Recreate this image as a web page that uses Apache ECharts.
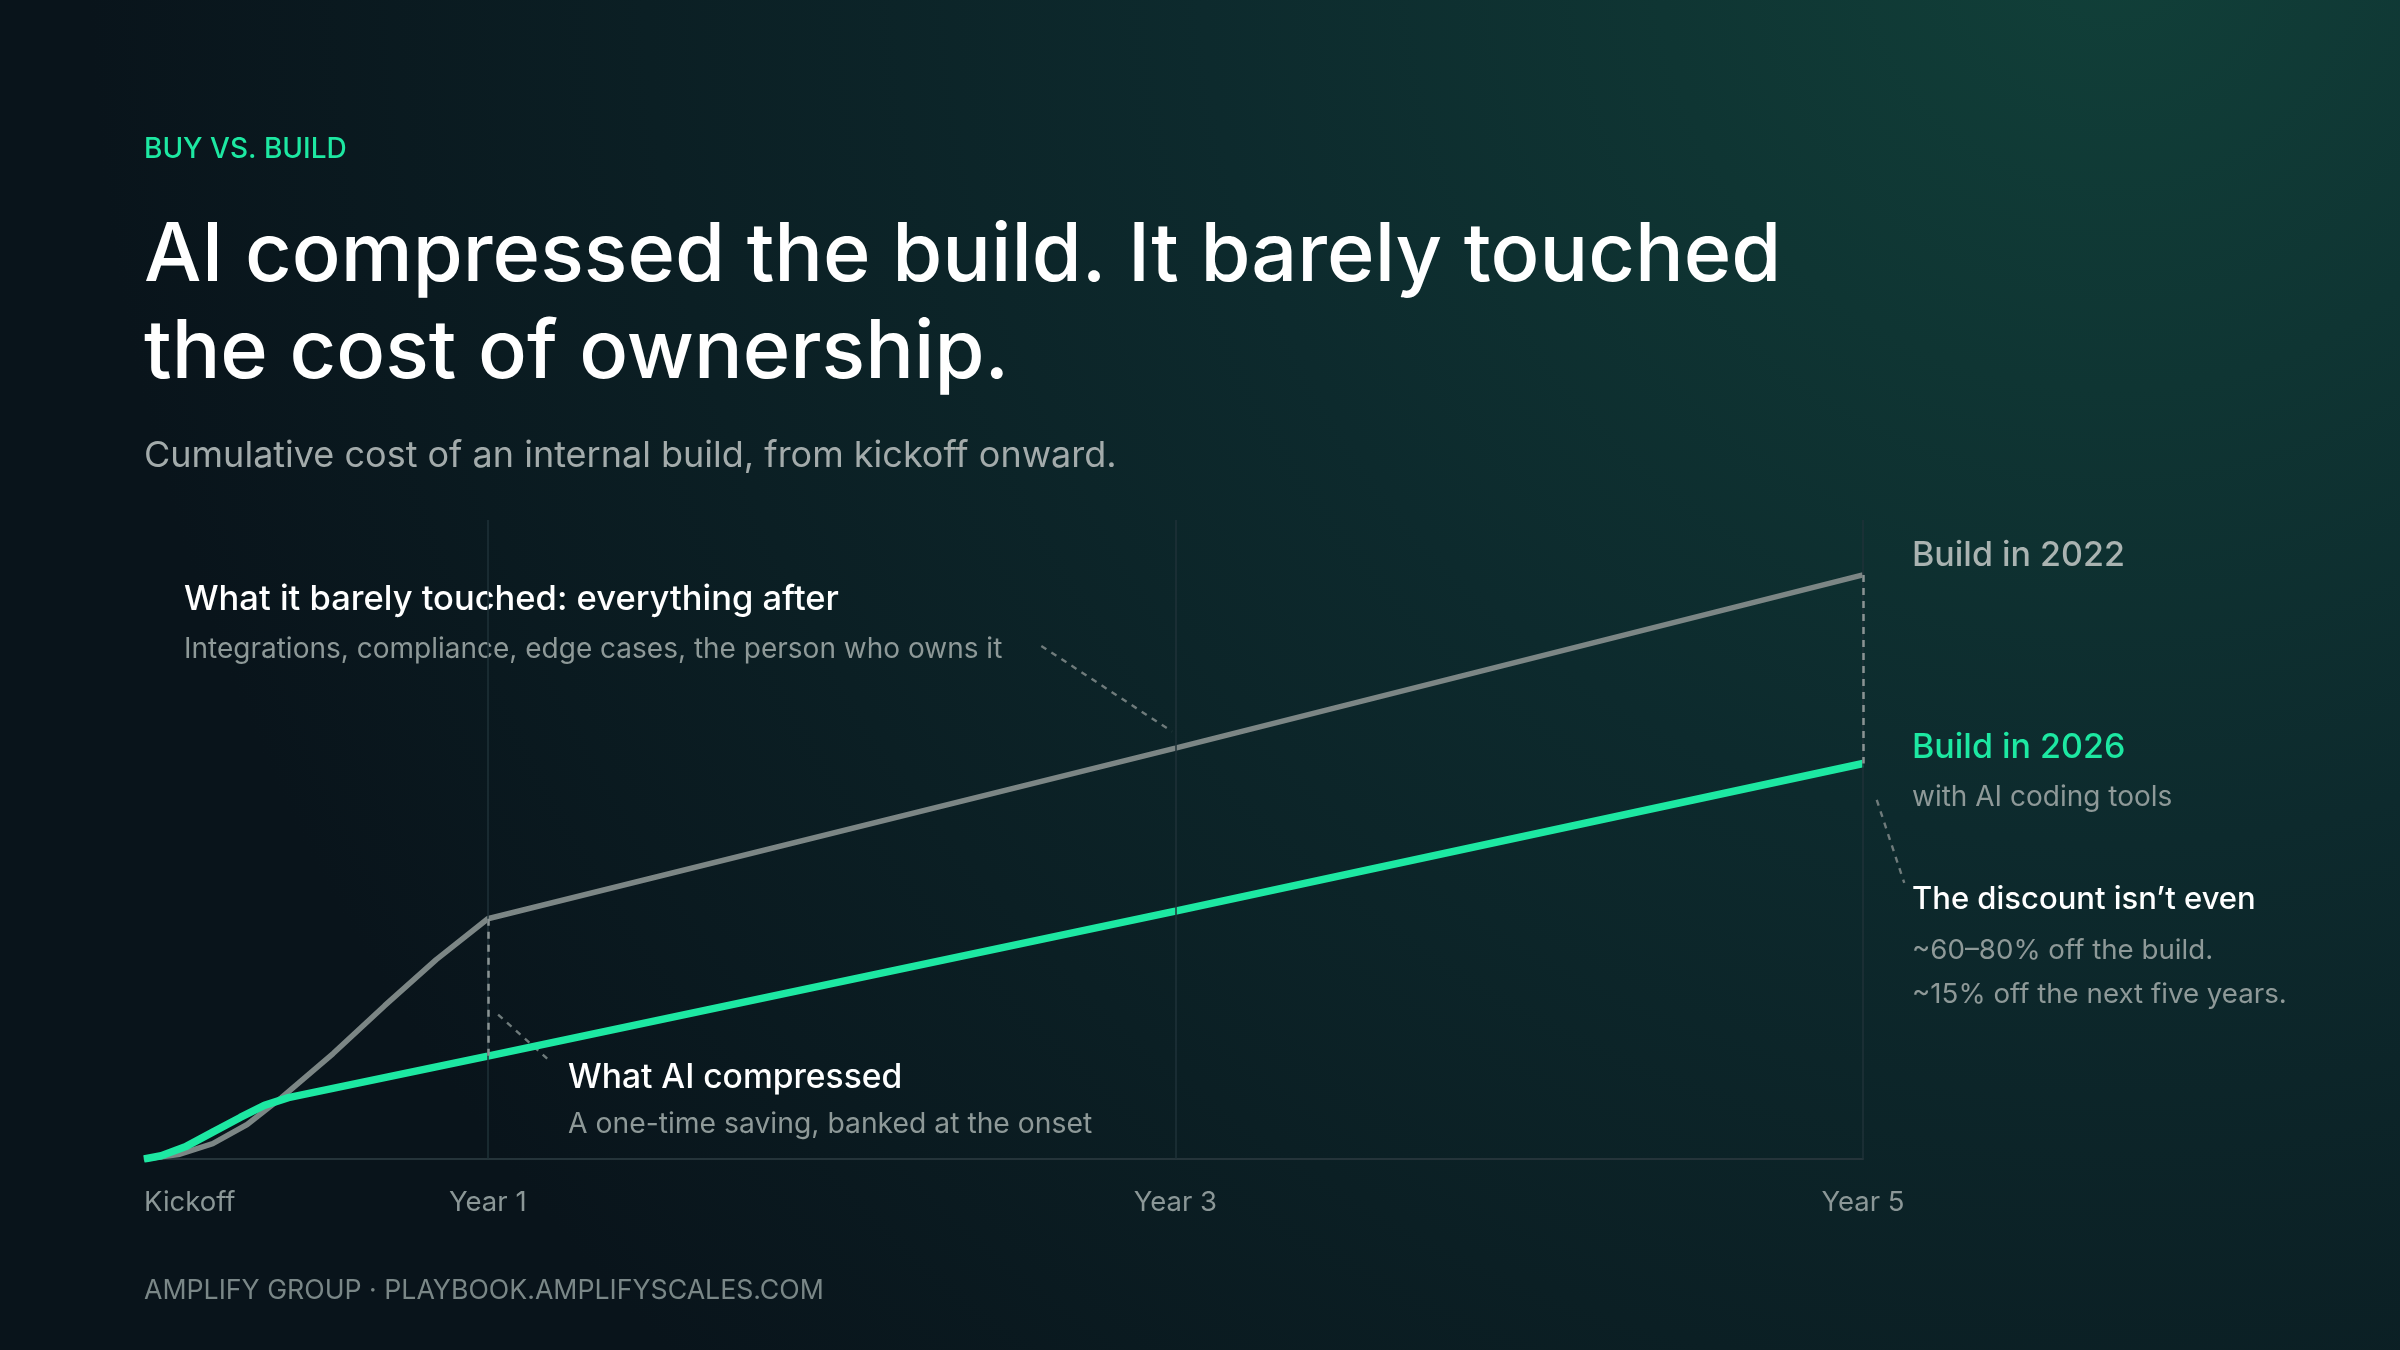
<!DOCTYPE html>
<html>
<head>
<meta charset="utf-8">
<style>
  html, body { margin: 0; padding: 0; background: #0a161d; }
  #main { width: 2400px; height: 1350px; }
</style>
<script src="https://cdn.jsdelivr.net/npm/echarts@6/dist/echarts.min.js"></script>
</head>
<body>
<div id="main"></div>
<script>
// years since kickoff, cumulative cost (share of the chart height)
var build2022X = [0, 0.1, 0.2, 0.3, 0.4, 0.55, 0.7, 0.85, 1, 3, 5];
var build2022Y = [0, 0.7, 2.4, 5.4, 9.6, 16.5, 24, 31.2, 37.6, 64.3, 91.4];
var build2026X = [0, 0.05, 0.12, 0.2, 0.28, 0.35, 0.42, 1, 3, 5];
var build2026Y = [0, 0.5, 1.9, 4.2, 6.5, 8.4, 9.6, 16.1, 38.8, 61.9];
var tickYears = [1, 3, 5];
var tickLabels = { 0: 'Kickoff', 1: 'Year 1', 3: 'Year 3', 5: 'Year 5' };

var chartDom = document.getElementById('main');
var myChart = echarts.init(chartDom);

var FONT = 'Inter, "Noto Sans", sans-serif';
var GREEN = '#1de8a2';
var GREY = '#7c8685';

function zip(xs, ys) {
    return xs.map(function (x, i) { return [x, ys[i]]; });
}

function valueAt(xs, ys, x) {
    return ys[xs.indexOf(x)];
}

var option = {
    backgroundColor: {
        type: 'radial', x: 0.88, y: -0.05, r: 1.5,
        colorStops: [
            { offset: 0, color: '#114039' },
            { offset: 0.45, color: '#0d2a2d' },
            { offset: 1, color: '#09141b' }
        ]
    },
    animation: false,
    grid: { left: 144, right: 537, top: 520, bottom: 191 },
    xAxis: {
        type: 'value', min: 0, max: 5, interval: 1,
        axisLine: { show: true, lineStyle: { color: '#25343a', width: 2 } },
        axisTick: { show: false },
        splitLine: { show: false },
        axisLabel: {
            margin: 30, fontSize: 27.5, color: '#8b9797', fontFamily: FONT,
            alignMinLabel: 'left', alignMaxLabel: 'center',
            formatter: function (v) { return tickLabels[v] || ''; }
        }
    },
    yAxis: {
        type: 'value', min: 0, max: 100,
        show: false
    },
    series: [
        {
            name: 'Build in 2022',
            type: 'line',
            data: zip(build2022X, build2022Y),
            symbol: 'none',
            lineStyle: { color: GREY, width: 5.5 },
            z: 3,
            markLine: {
                silent: true, symbol: 'none', label: { show: false },
                lineStyle: { color: '#1f3238', width: 1.5, type: 'solid' },
                data: tickYears.map(function (y) { return { xAxis: y }; })
            }
        },
        {
            name: 'Build in 2026',
            type: 'line',
            data: zip(build2026X, build2026Y),
            symbol: 'none',
            lineStyle: { color: GREEN, width: 7.5 },
            z: 4
        },
        {
            name: 'gap',
            type: 'line',
            data: [],
            z: 2,
            markLine: {
                silent: true, symbol: 'none', label: { show: false },
                lineStyle: { color: '#8a9494', width: 2.5, type: [7, 6] },
                data: [1, 5].map(function (yr) {
                    return [
                        { coord: [yr, valueAt(build2022X, build2022Y, yr)] },
                        { coord: [yr, valueAt(build2026X, build2026Y, yr)] }
                    ];
                })
            }
        }
    ]
};

myChart.setOption(option);

// leader lines, anchored in data space
var leaders = [
    [[2.61, 80.3], [2.99, 66.9]],
    [[1.03, 22.6], [1.185, 15.1]],
    [[5.04, 56.2], [5.12, 43.2]]
];

function txt(x, y, text, size, color, weight) {
    return {
        type: 'text', x: x, y: y, silent: true,
        style: {
            text: text, fontSize: size, fill: color, fontFamily: FONT,
            fontWeight: weight || 'normal', verticalAlign: 'middle', align: 'left'
        }
    };
}

var graphics = leaders.map(function (pair) {
    var a = myChart.convertToPixel({ seriesIndex: 0 }, pair[0]);
    var b = myChart.convertToPixel({ seriesIndex: 0 }, pair[1]);
    return {
        type: 'line', silent: true,
        shape: { x1: a[0], y1: a[1], x2: b[0], y2: b[1] },
        style: { stroke: '#6f7b7b', lineWidth: 2.4, lineDash: [6, 6] }
    };
});

graphics = graphics.concat([
    txt(144, 150, 'BUY VS. BUILD', 28, GREEN, 500),
    txt(144, 257, 'AI compressed the build. It barely touched', 81, '#ffffff', 500),
    txt(144, 354, 'the cost of ownership.', 81, '#ffffff', 500),
    txt(144, 456, 'Cumulative cost of an internal build, from kickoff onward.', 36, '#a3abab', 'normal'),

    txt(184, 600, 'What it barely touched: everything after', 34.5, '#ffffff', 500),
    txt(184, 650, 'Integrations, compliance, edge cases, the person who owns it', 28, '#8e9998', 'normal'),
    txt(568, 1078, 'What AI compressed', 33.6, '#ffffff', 500),
    txt(568, 1124, 'A one-time saving, banked at the onset', 28.3, '#8e9998', 'normal'),

    txt(1912, 556, 'Build in 2022', 34, '#aab3b1', 500),
    txt(1912, 748, 'Build in 2026', 34, GREEN, 500),
    txt(1912, 798, 'with AI coding tools', 28, '#8e9998', 'normal'),
    txt(1912, 900, 'The discount isn\u2019t even', 31, '#ffffff', 500),
    txt(1912, 951, '~60\u201380% off the build.', 27.7, '#8e9998', 'normal'),
    txt(1912, 995, '~15% off the next five years.', 27.7, '#8e9998', 'normal'),

    txt(144, 1291, 'AMPLIFY GROUP \u00b7 PLAYBOOK.AMPLIFYSCALES.COM', 26.7, '#7a8787', 'normal')
]);

myChart.setOption({ graphic: graphics });
</script>
</body>
</html>
